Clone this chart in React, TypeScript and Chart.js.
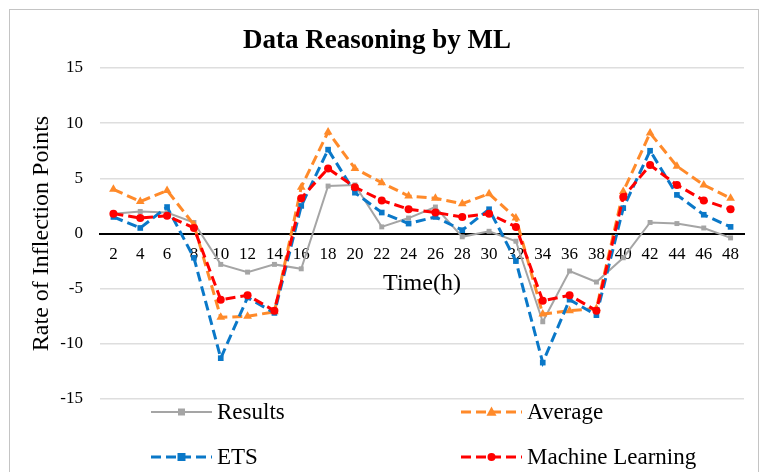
import React, { useEffect, useRef } from 'react';
import { Chart, registerables } from 'chart.js';

Chart.register(...registerables);

const hours = ['2', '4', '6', '8', '10', '12', '14', '16', '18', '20', '22', '24', '26', '28', '30', '32', '34', '36', '38', '40', '42', '44', '46', '48'];
const results = [1.8, 2.0, 1.9, 1.0, -2.8, -3.5, -2.8, -3.2, 4.3, 4.4, 0.6, 1.4, 2.4, -0.3, 0.2, -0.7, -8.0, -3.4, -4.4, -2.2, 1.0, 0.9, 0.5, -0.4];
const average = [4.0, 2.9, 3.9, 0.8, -7.6, -7.5, -7.1, 4.2, 9.2, 5.9, 4.6, 3.4, 3.2, 2.7, 3.6, 1.4, -7.3, -7.0, -6.8, 3.8, 9.1, 6.1, 4.4, 3.2];
const ets = [1.5, 0.5, 2.4, -2.2, -11.3, -5.8, -7.2, 2.5, 7.6, 3.7, 1.9, 0.9, 1.5, 0.3, 2.2, -2.5, -11.7, -6.0, -7.4, 2.3, 7.5, 3.5, 1.7, 0.6];
const machineLearning = [1.8, 1.4, 1.6, 0.5, -6.0, -5.6, -7.0, 3.2, 5.9, 4.2, 3.0, 2.2, 1.9, 1.5, 1.8, 0.6, -6.1, -5.6, -7.0, 3.3, 6.2, 4.4, 3.0, 2.2];
const seriesNames = ['Results', 'Average', 'ETS', 'Machine Learning'];
const yMin = -15;
const yMax = 15;
const yStep = 5;

const FONT = '"Liberation Serif", "Times New Roman", serif';

const COLORS = {
  gray: '#a5a5a5',
  orange: '#ff8a2a',
  blue: '#0a78c8',
  red: '#ff0000',
};

function drawMarker(ctx: CanvasRenderingContext2D, style: string, x: number, y: number, r: number, color: string) {
  ctx.save();
  ctx.setLineDash([]);
  ctx.fillStyle = color;
  ctx.beginPath();
  if (style === 'rect') {
    ctx.rect(x - r, y - r, 2 * r, 2 * r);
  } else if (style === 'triangle') {
    ctx.moveTo(x, y - r * 1.1);
    ctx.lineTo(x + r, y + r * 0.75);
    ctx.lineTo(x - r, y + r * 0.75);
    ctx.closePath();
  } else {
    ctx.arc(x, y, r, 0, Math.PI * 2);
  }
  ctx.fill();
  ctx.restore();
}

const legendPlugin = {
  id: 'excelLegend',
  afterDraw(chart: any) {
    const ctx: CanvasRenderingContext2D = chart.ctx;
    const cols = [141, 451];
    const rows = [402, 447];
    const order = [0, 1, 2, 3];
    ctx.save();
    order.forEach((dsIndex, i) => {
      const ds = chart.data.datasets[dsIndex];
      const x = cols[i % 2];
      const y = rows[Math.floor(i / 2)];
      ctx.strokeStyle = ds.borderColor;
      ctx.lineWidth = ds.borderWidth;
      ctx.setLineDash(ds.borderDash || []);
      ctx.beginPath();
      ctx.moveTo(x, y);
      ctx.lineTo(x + 61, y);
      ctx.stroke();
      drawMarker(ctx, ds.pointStyle, x + 30.5, y, ds.pointRadius, ds.pointBackgroundColor);
      ctx.setLineDash([]);
      ctx.fillStyle = '#000';
      ctx.font = '23px ' + FONT;
      ctx.textAlign = 'left';
      ctx.textBaseline = 'middle';
      ctx.fillText(ds.label, x + 66, y + 1);
    });
    ctx.restore();
  },
};

const whiteBg = {
  id: 'whiteBg',
  beforeDraw(chart: any) {
    const ctx = chart.ctx;
    ctx.save();
    ctx.fillStyle = '#ffffff';
    ctx.fillRect(0, 0, chart.width, chart.height);
    ctx.restore();
  },
};

export default function App() {
  const canvasRef = useRef<HTMLCanvasElement | null>(null);

  useEffect(() => {
    document.documentElement.style.overflow = 'hidden';
    document.body.style.overflow = 'hidden';
    const canvas = canvasRef.current;
    if (!canvas) return;
    const chart = new Chart(canvas, {
      type: 'line',
      data: {
        labels: hours,
        datasets: [
          {
            label: seriesNames[0],
            data: results,
            borderColor: COLORS.gray,
            backgroundColor: COLORS.gray,
            borderWidth: 2,
            pointStyle: 'rect',
            pointRadius: 3.5,
            pointBackgroundColor: COLORS.gray,
            pointBorderColor: COLORS.gray,
            pointBorderWidth: 0,
            tension: 0,
            order: 3,
          },
          {
            label: seriesNames[1],
            data: average,
            borderColor: COLORS.orange,
            backgroundColor: COLORS.orange,
            borderWidth: 3,
            borderDash: [10, 5],
            pointStyle: 'triangle',
            pointRadius: 5,
            pointBackgroundColor: COLORS.orange,
            pointBorderColor: COLORS.orange,
            pointBorderWidth: 0,
            tension: 0,
            order: 2,
          },
          {
            label: seriesNames[2],
            data: ets,
            borderColor: COLORS.blue,
            backgroundColor: COLORS.blue,
            borderWidth: 3,
            borderDash: [10, 5],
            pointStyle: 'rect',
            pointRadius: 4,
            pointBackgroundColor: COLORS.blue,
            pointBorderColor: COLORS.blue,
            pointBorderWidth: 0,
            tension: 0,
            order: 1,
          },
          {
            label: seriesNames[3],
            data: machineLearning,
            borderColor: COLORS.red,
            backgroundColor: COLORS.red,
            borderWidth: 3,
            borderDash: [10, 5],
            pointStyle: 'circle',
            pointRadius: 4,
            pointBackgroundColor: COLORS.red,
            pointBorderColor: COLORS.red,
            pointBorderWidth: 0,
            tension: 0,
            order: 0,
          },
        ],
      },
      options: {
        responsive: false,
        animation: false,
        devicePixelRatio: 1,
        layout: { padding: { top: 0, left: 0, right: 14, bottom: 73 } },
        plugins: {
          legend: { display: false },
          tooltip: { enabled: false },
          title: {
            display: true,
            text: 'Data Reasoning by ML',
            color: '#000',
            font: { family: FONT, size: 27, weight: 'bold' },
            padding: { top: 15, bottom: 10.6 },
          },
        },
        scales: {
          x: {
            type: 'category',
            offset: true,
            position: { y: 0 } as any,
            grid: { display: false, z: 0 },
            border: { display: true, color: '#000', width: 2 },
            ticks: {
              color: '#000',
              font: { family: FONT, size: 17 },
              padding: 3,
              autoSkip: false,
              maxRotation: 0,
              minRotation: 0,
            },
            title: {
              display: true,
              text: 'Time(h)',
              color: '#000',
              font: { family: FONT, size: 24 },
              padding: { top: 0, bottom: 8 },
            },
            afterFit: (s: any) => {
              s.height = 73;
            },
          },
          y: {
            min: yMin,
            max: yMax,
            grid: {
              drawTicks: false,
              z: -1,
              color: (c: any) => (c.tick && c.tick.value === 0 ? '#000' : '#dedede'),
              lineWidth: (c: any) => (c.tick && c.tick.value === 0 ? 2 : 1.5),
            },
            border: { display: false },
            ticks: {
              stepSize: yStep,
              color: '#000',
              font: { family: FONT, size: 17 },
              padding: 17,
              callback: (v: any) => String(v),
            },
            title: {
              display: true,
              text: 'Rate of Inflection Points',
              color: '#000',
              font: { family: FONT, size: 24 },
              padding: { top: 17, bottom: 0 },
            },
            afterFit: (s: any) => {
              s.width = 90;
            },
          },
        },
      },
      plugins: [whiteBg, legendPlugin],
    } as any);
    return () => {
      chart.destroy();
    };
  }, []);

  return (
    <div
      style={{
        position: 'absolute',
        left: 9,
        top: 9,
        width: 750,
        height: 464,
        border: '1px solid #c4c4c4',
        boxSizing: 'border-box',
        background: '#fff',
      }}
    >
      <canvas ref={canvasRef} width={748} height={462} style={{ display: 'block', width: 748, height: 462 }} />
    </div>
  );
}
